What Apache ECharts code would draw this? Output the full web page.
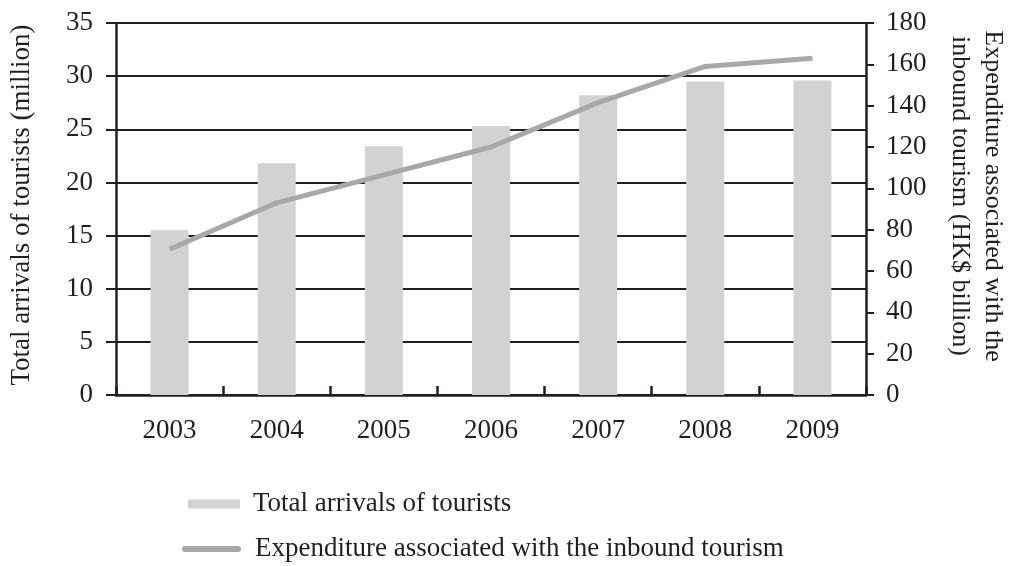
<!DOCTYPE html>
<html>
<head>
<meta charset="utf-8">
<script src="https://cdn.jsdelivr.net/npm/echarts@6/dist/echarts.min.js"></script>
<style>
  html, body { margin: 0; padding: 0; background: #ffffff; }
  #chart { width: 1009px; height: 566px; }
</style>
</head>
<body>
<div id="chart"></div>
<script>
// Hong Kong inbound tourism, 2003–2009
const years = ['2003', '2004', '2005', '2006', '2007', '2008', '2009'];
const arrivals = [15.5, 21.8, 23.4, 25.3, 28.2, 29.5, 29.6];          // million
const expenditure = [70.5, 93, 106.5, 120, 141.5, 159, 163];           // HK$ billion

const arrivalsName = 'Total arrivals of tourists';
const expenditureName = 'Expenditure associated with the inbound tourism';
const leftAxisTitle = 'Total arrivals of tourists (million)';
const rightAxisTitle = 'Expenditure associated with the\ninbound tourism (HK$ billion)';

const INK = '#231f20';
const FONT = '"Liberation Serif", "DejaVu Serif", serif';

const chart = echarts.init(document.getElementById('chart'), null, { renderer: 'canvas' });

chart.setOption({
  backgroundColor: '#ffffff',
  animation: false,
  textStyle: { fontFamily: FONT, color: INK },
  grid: { left: 116, right: 143, top: 23, bottom: 171, containLabel: false },
  legend: [
    {
      data: [arrivalsName],
      left: 188, top: 489,
      padding: 0,
      icon: 'rect',
      itemWidth: 52, itemHeight: 9,
      textStyle: { fontFamily: FONT, fontSize: 27, color: INK, lineHeight: 30, padding: [0, 0, 0, 8] }
    },
    {
      data: [{
        name: expenditureName,
        icon: 'path://M3,0 L57,0 A3,3 0 0 1 57,6 L3,6 A3,3 0 0 1 3,0 Z'
      }],
      left: 182, top: 534,
      padding: 0,
      itemWidth: 59, itemHeight: 6,
      textStyle: { fontFamily: FONT, fontSize: 27, color: INK, lineHeight: 30, padding: [0, 0, 0, 9] }
    }
  ],
  xAxis: {
    type: 'category',
    data: years,
    boundaryGap: true,
    axisLine: { show: true, lineStyle: { color: INK, width: 2.5 } },
    axisTick: { show: true, inside: true, length: 9, lineStyle: { color: INK, width: 2.5 } },
    axisLabel: { fontFamily: FONT, fontSize: 27, color: INK, margin: 22 },
    splitLine: { show: false }
  },
  yAxis: [
    {
      type: 'value',
      min: 0, max: 35, interval: 5,
      axisLine: { show: true, lineStyle: { color: INK, width: 2.5 } },
      axisTick: { show: true, inside: false, length: 10, lineStyle: { color: INK, width: 2 } },
      axisLabel: { fontFamily: FONT, fontSize: 27, color: INK, margin: 23 },
      splitLine: { show: true, lineStyle: { color: INK, width: 2 } }
    },
    {
      type: 'value',
      position: 'right',
      min: 0, max: 180, interval: 20,
      axisLine: { show: true, lineStyle: { color: INK, width: 2.5 } },
      axisTick: { show: true, inside: false, length: 8, lineStyle: { color: INK, width: 2 } },
      axisLabel: { fontFamily: FONT, fontSize: 27, color: INK, margin: 20 },
      splitLine: { show: false }
    }
  ],
  series: [
    {
      name: arrivalsName,
      type: 'bar',
      yAxisIndex: 0,
      data: arrivals,
      barWidth: 38,
      itemStyle: { color: '#d1d2d4' },
      z: 2
    },
    {
      name: expenditureName,
      type: 'line',
      yAxisIndex: 1,
      data: expenditure,
      symbol: 'none',
      lineStyle: { color: '#a7a8aa', width: 5, cap: 'butt', join: 'round' },
      itemStyle: { color: '#a7a8aa' },
      z: 3
    }
  ],
  graphic: [
    {
      type: 'text',
      x: 22, y: 205,
      rotation: Math.PI / 2,
      style: {
        text: leftAxisTitle,
        font: '27px ' + FONT,
        fill: INK,
        align: 'center',
        verticalAlign: 'middle'
      }
    },
    {
      type: 'text',
      x: 976, y: 196,
      rotation: -Math.PI / 2,
      style: {
        text: rightAxisTitle,
        font: '26px ' + FONT,
        fill: INK,
        align: 'center',
        verticalAlign: 'middle',
        lineHeight: 33
      }
    }
  ]
});
</script>
</body>
</html>
